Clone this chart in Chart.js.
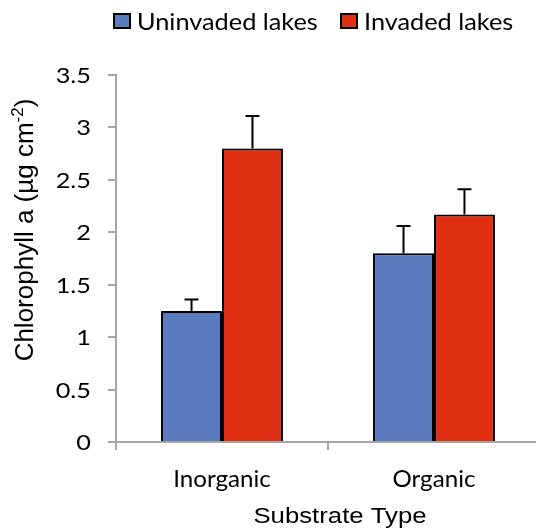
<!DOCTYPE html>
<html>
<head>
<meta charset="utf-8">
<script src="https://cdn.jsdelivr.net/npm/chart.js@4"></script>
<style>
  html, body { margin: 0; padding: 0; overflow: hidden; background: #fff; }
  #wrap { width: 541px; height: 532px; }
</style>
</head>
<body>
<div id="wrap"><canvas id="chlChart"></canvas></div>
<script>
// chart data
const categories = ['Inorganic', 'Organic'];
const seriesNames = ['Uninvaded lakes', 'Invaded lakes'];
const uninvaded = [1.25, 1.80];
const invaded = [2.80, 2.17];
// top of each error bar
const uninvadedErrTop = [1.36, 2.06];
const invadedErrTop = [3.11, 2.41];
const yTicks = [0, 0.5, 1, 1.5, 2, 2.5, 3, 3.5];
const yTickLabels = ['0', '0.5', '1', '1.5', '2', '2.5', '3', '3.5'];
const xTitle = 'Substrate Type';
const yTitle = 'Chlorophyll a (µg cm';
const yTitleSup = '-2';

const blue = '#5B7BBF';
const red = '#DF3013';
const axisGrey = '#A6A6A6';

// text in the original is a bit wider than tall, so stretch it in x
function stretchedText(ctx, text, x, y, font, sx, align) {
    ctx.save();
    ctx.font = font;
    ctx.fillStyle = '#000';
    ctx.textBaseline = 'alphabetic';
    ctx.textAlign = align;
    ctx.translate(x, y);
    ctx.scale(sx, 1);
    ctx.fillText(text, 0, 0);
    ctx.restore();
}

const errorBars = {
    id: 'errorBars',
    afterDatasetsDraw(chart) {
        const ctx = chart.ctx;
        const yScale = chart.scales.y;
        const tops = [uninvadedErrTop, invadedErrTop];
        ctx.save();
        ctx.strokeStyle = '#000';
        ctx.lineWidth = 2;
        chart.data.datasets.forEach((ds, di) => {
            chart.getDatasetMeta(di).data.forEach((bar, i) => {
                const yTop = yScale.getPixelForValue(tops[di][i]);
                ctx.beginPath();
                ctx.moveTo(bar.x, bar.y);
                ctx.lineTo(bar.x, yTop);
                ctx.moveTo(bar.x - 7, yTop);
                ctx.lineTo(bar.x + 7, yTop);
                ctx.stroke();
            });
        });
        ctx.restore();
    }
};

const barShadow = {
    id: 'barShadow',
    beforeDatasetsDraw(chart) {
        const ctx = chart.ctx;
        ctx.save();
        ctx.shadowColor = 'rgba(0,0,0,0.22)';
        ctx.shadowBlur = 4;
        ctx.shadowOffsetX = 2;
        ctx.shadowOffsetY = 1;
    },
    afterDatasetsDraw(chart) {
        chart.ctx.restore();
    }
};

const labelsAndLegend = {
    id: 'labelsAndLegend',
    afterDraw(chart) {
        const ctx = chart.ctx;
        const xScale = chart.scales.x;
        const yScale = chart.scales.y;

        // y tick labels
        yTicks.forEach((v, i) => {
            const y = yScale.getPixelForValue(v);
            stretchedText(ctx, yTickLabels[i], 91, y + 8, '22px Lato', 1.15, 'right');
        });

        // category labels
        categories.forEach((c, i) => {
            const x = xScale.getPixelForTick(i);
            stretchedText(ctx, c, x, 487, '23px Lato', 1.05, 'center');
        });

        // x title
        stretchedText(ctx, xTitle, 340, 523, '22px "Liberation Sans"', 1.17, 'center');

        // y title, rotated, with superscript
        ctx.save();
        ctx.fillStyle = '#000';
        ctx.translate(33, 230);
        ctx.rotate(-Math.PI / 2);
        ctx.textBaseline = 'alphabetic';
        ctx.font = '26px "Liberation Sans"';
        const w1 = ctx.measureText(yTitle).width;
        ctx.font = '17px "Liberation Sans"';
        const w2 = ctx.measureText(yTitleSup).width;
        ctx.font = '26px "Liberation Sans"';
        const w3 = ctx.measureText(')').width;
        let x0 = -(w1 + w2 + w3) / 2;
        ctx.textAlign = 'left';
        ctx.fillText(yTitle, x0, 0);
        ctx.font = '17px "Liberation Sans"';
        ctx.fillText(yTitleSup, x0 + w1, -10);
        ctx.font = '26px "Liberation Sans"';
        ctx.fillText(')', x0 + w1 + w2, 0);
        ctx.restore();

        // legend
        const items = [
            { text: seriesNames[0], color: blue, box: 114, tx: 137 },
            { text: seriesNames[1], color: red, box: 341, tx: 364 }
        ];
        items.forEach(it => {
            ctx.save();
            ctx.fillStyle = it.color;
            ctx.strokeStyle = '#000';
            ctx.lineWidth = 2;
            ctx.fillRect(it.box, 14, 16, 14);
            ctx.strokeRect(it.box, 14, 16, 14);
            ctx.restore();
            stretchedText(ctx, it.text, it.tx, 30, '23px Lato', 1.1, 'left');
        });
    }
};

const ctx = document.getElementById('chlChart').getContext('2d');
new Chart(ctx, {
    type: 'bar',
    data: {
        labels: categories,
        datasets: [
            {
                label: seriesNames[0],
                data: uninvaded,
                backgroundColor: blue,
                borderColor: '#000',
                borderWidth: 2
            },
            {
                label: seriesNames[1],
                data: invaded,
                backgroundColor: red,
                borderColor: '#000',
                borderWidth: 2
            }
        ]
    },
    options: {
        responsive: true,
        maintainAspectRatio: false,
        animation: false,
        layout: { padding: { top: 75, left: 0, right: 1, bottom: 0 } },
        datasets: {
            bar: { categoryPercentage: 0.575, barPercentage: 1 }
        },
        plugins: {
            legend: { display: false },
            tooltip: { enabled: false }
        },
        scales: {
            x: {
                grid: {
                    offset: true,
                    drawOnChartArea: false,
                    drawTicks: true,
                    tickLength: 8,
                    color: axisGrey,
                    lineWidth: 2
                },
                border: { color: axisGrey, width: 2 },
                ticks: { display: false },
                afterFit(scale) { scale.height = 90; }
            },
            y: {
                min: 0,
                max: 3.5,
                grid: {
                    drawOnChartArea: false,
                    drawTicks: true,
                    tickLength: 8,
                    color: axisGrey,
                    lineWidth: 2
                },
                border: { color: axisGrey, width: 2 },
                ticks: { display: false },
                afterBuildTicks(scale) {
                    scale.ticks = yTicks.map(v => ({ value: v }));
                },
                afterFit(scale) { scale.width = 116; }
            }
        }
    },
    plugins: [barShadow, errorBars, labelsAndLegend]
});
</script>
</body>
</html>
